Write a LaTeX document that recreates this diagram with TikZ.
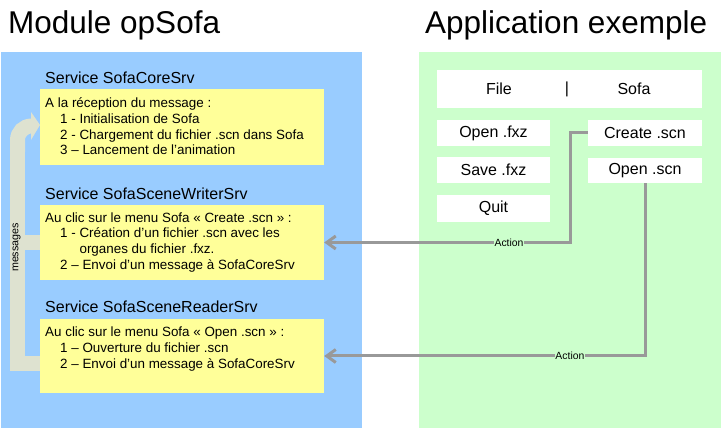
\documentclass[tikz,border=0pt]{standalone}
\usepackage{fontspec}
\setmainfont{Liberation Sans}
\usetikzlibrary{arrows.meta}
\definecolor{bluep}{HTML}{99CCFF}
\definecolor{greenp}{HTML}{CCFFCC}
\definecolor{yel}{HTML}{FFFF99}
\definecolor{conn}{HTML}{999999}
\definecolor{bandc}{RGB}{222,226,208}
\begin{document}
\begin{tikzpicture}[x=1pt,y=-1pt,
  ybox/.style={fill=yel, draw=none, inner sep=0pt, minimum width=284pt},
  wbox/.style={fill=white, draw=none, inner sep=0pt, font=\fontsize{16}{19}\selectfont},
  svc/.style={anchor=base west, inner sep=0pt, font=\fontsize{16}{19}\selectfont},
  body/.style={anchor=north west, inner sep=0pt, align=left, font=\fontsize{13.4}{15.7}\selectfont},
  big/.style={anchor=base west, inner sep=0pt},
  act/.style={draw=conn, line width=3pt, -{Straight Barb[length=9pt,width=13pt,line width=3pt]}},
  lbl/.style={fill=greenp, inner sep=0.6pt, font=\fontsize{10.4}{12}\selectfont},
  band/.style={draw=bandc, line width=15pt}
]
\useasboundingbox (0,0) rectangle (721,430);
\fill[white] (0,0) rectangle (721,430);
% panels
\fill[bluep] (1,52) rectangle (362,428);
\fill[greenp] (419,52) rectangle (721,428);
% titles
\node[big, font=\fontsize{31.5}{36}\selectfont] (tmod) at (8,33.5) {Module opSofa};
\node[big, font=\fontsize{31.5}{36}\selectfont] (tapp) at (425,33.5) {Application exemple};
% messages band
\draw[band] (40,363.5) -- (17.5,363.5) -- (17.5,150);
\draw[band, rounded corners=14pt] (17.5,152) -- (17.5,126) -- (32,126);
\draw[band] (17.5,242.5) -- (40,242.5);
\fill[bandc] (31,112) -- (40,125) -- (31,140) -- cycle;
\node[rotate=90, inner sep=0pt, font=\fontsize{10.7}{12}\selectfont] (msg) at (16.5,247.5) {messages};
% service boxes
\node[ybox, minimum height=76pt] (core) at (182,127) {};
\node[ybox, minimum height=75pt] (writer) at (182,242.5) {};
\node[ybox, minimum height=74pt] (reader) at (182,356) {};
\node[svc] (tcore) at (45,83.3) {Service SofaCoreSrv};
\node[svc] (twriter) at (45,199.3) {Service SofaSceneWriterSrv};
\node[svc] (treader) at (45,312.7) {Service SofaSceneReaderSrv};
\node[body] (bcore) at (45,96.5) {\strut A la réception du message :\\
\hspace*{15pt}1 - Initialisation de Sofa\\
\hspace*{15pt}2 - Chargement du fichier .scn dans Sofa\\
\hspace*{15pt}3 – Lancement de l’animation};
\node[body] (bwriter) at (45,211) {\strut Au clic sur le menu Sofa « Create .scn » :\\
\hspace*{15pt}1 - Création d’un fichier .scn avec les\\
\hspace*{15pt}\phantom{1 - }organes du fichier .fxz.\\
\hspace*{15pt}2 – Envoi d’un message à SofaCoreSrv};
\node[body] (breader) at (45,325.7) {\strut Au clic sur le menu Sofa « Open .scn » :\\
\hspace*{15pt}1 – Ouverture du fichier .scn\\
\hspace*{15pt}2 – Envoi d’un message à SofaCoreSrv};
% menu
\node[wbox, minimum width=265pt, minimum height=38pt] (bar) at (569.5,89) {};
\node[inner sep=0pt, font=\fontsize{16}{19}\selectfont] (mfile) at (499,89) {File};
\node[inner sep=0pt, font=\fontsize{16}{19}\selectfont] (msep) at (567,89) {|};
\node[inner sep=0pt, font=\fontsize{16}{19}\selectfont] (msofa) at (634,89) {Sofa};
\node[wbox, minimum width=113pt, minimum height=26pt] (openfxz) at (493.5,133) {Open .fxz};
\node[wbox, minimum width=113pt, minimum height=26pt] (savefxz) at (493.5,170) {Save .fxz};
\node[wbox, minimum width=113pt, minimum height=27pt] (quit) at (493.5,208.5) {Quit};
\node[wbox, minimum width=114pt, minimum height=26pt] (create) at (645,133) {Create .scn};
\node[wbox, minimum width=114pt, minimum height=25pt] (openscn) at (645,170.5) {Open .scn};
% connectors
\coordinate (k1) at (570,242.5);
\draw[act] (create.west) -| (k1) -- node[lbl, pos=0.248] (a1) {Action} (writer.east);
\draw[act] (openscn.south) |- node[lbl, pos=0.617] (a2) {Action} (reader.east);
\end{tikzpicture}
\end{document}
